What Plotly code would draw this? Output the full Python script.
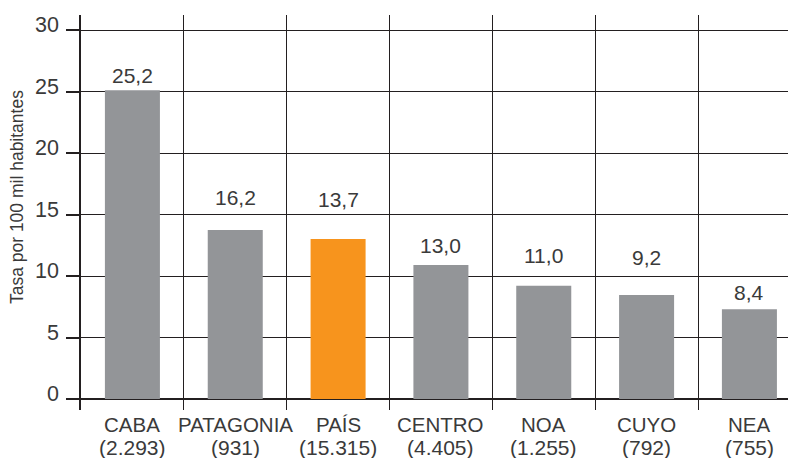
import plotly.graph_objects as go

# regiones y casos (entre paréntesis)
regiones = ['CABA', 'PATAGONIA', 'PAÍS', 'CENTRO', 'NOA', 'CUYO', 'NEA']
casos = ['2.293', '931', '15.315', '4.405', '1.255', '792', '755']

# alto de las barras tal como aparece dibujado
tasa_barra = [25.1, 13.74, 13.0, 10.9, 9.2, 8.45, 7.3]
# valores impresos encima de cada barra
tasa_texto = ['25,2', '16,2', '13,7', '13,0', '11,0', '9,2', '8,4']
# altura (en unidades del eje) donde va cada rótulo
rotulo_y = [26.34, 16.42, 16.26, 12.52, 11.63, 11.54, 8.62]

y_ticks = [0, 5, 10, 15, 20, 25, 30]

GRIS = '#939598'
NARANJA = '#F7941D'
LINEA = '#231f20'
TEXTO = '#3a3a3a'
FUENTE = 'Liberation Sans, Arial, sans-serif'

x = list(range(len(regiones)))
colores = [NARANJA if r == 'PAÍS' else GRIS for r in regiones]
bordes = [i - 0.5 for i in range(len(regiones) + 1)]
x_rango = [-0.5, 6.453]

fig = go.Figure(go.Bar(
    x=x,
    y=tasa_barra,
    width=0.535,
    marker=dict(color=colores, line=dict(width=0)),
    hoverinfo='skip',
))

# traza invisible para que se dibuje la grilla vertical del eje x2
fig.add_trace(go.Scatter(x=bordes, y=[0] * len(bordes), xaxis='x2', mode='markers',
                         marker=dict(opacity=0), hoverinfo='skip'))

for xi, yi, t in zip(x, rotulo_y, tasa_texto):
    fig.add_annotation(x=xi, y=yi, text=t, showarrow=False, xanchor='center', yanchor='middle',
                       font=dict(size=21, color=TEXTO, family=FUENTE))

for xi, r, c in zip(x, regiones, casos):
    fig.add_annotation(x=xi, y=0, yref='paper', text=r, showarrow=False, xanchor='center',
                       yanchor='top', yshift=-1, font=dict(size=20.5, color=TEXTO, family=FUENTE))
    fig.add_annotation(x=xi, y=0, yref='paper', text=f'({c})', showarrow=False, xanchor='center',
                       yanchor='top', yshift=-24, font=dict(size=21, color=TEXTO, family=FUENTE))

# rótulos del eje y, un poco por encima de cada marca
for v in y_ticks:
    fig.add_annotation(x=0, xref='paper', y=v, yref='y', text=str(v), showarrow=False,
                       xanchor='right', yanchor='middle', xshift=-20, yshift=5,
                       font=dict(size=21.5, color=TEXTO, family=FUENTE))

# título del eje y
fig.add_annotation(x=0, xref='paper', y=0.539, yref='paper', text='Tasa por 100 mil habitantes',
                   textangle=-90, showarrow=False, xanchor='center', yanchor='middle', xshift=-64,
                   font=dict(size=17.5, color=TEXTO, family=FUENTE))

# la página tiene un margen de 8 px, se compensa en los márgenes de la figura
fig.update_layout(
    width=788,
    height=450,
    margin=dict(l=73, r=0, t=7, b=48),
    paper_bgcolor='white',
    plot_bgcolor='white',
    showlegend=False,
    font=dict(family=FUENTE, color=TEXTO),
    xaxis=dict(
        range=x_rango,
        showticklabels=False,
        ticks='',
        showgrid=False,
        zeroline=False,
        showline=False,
        automargin=False,
    ),
    xaxis2=dict(
        overlaying='x',
        range=x_rango,
        tickvals=bordes,
        showticklabels=False,
        ticks='',
        showgrid=True,
        gridcolor=LINEA,
        gridwidth=1.3,
        zeroline=False,
        showline=False,
        automargin=False,
    ),
    yaxis=dict(
        range=[-0.894, 31.22],
        tickvals=y_ticks,
        showticklabels=False,
        ticks='outside',
        ticklen=13,
        tickwidth=2,
        tickcolor=LINEA,
        showgrid=True,
        gridcolor=LINEA,
        gridwidth=1.3,
        zeroline=True,
        zerolinecolor=LINEA,
        zerolinewidth=2.2,
        showline=True,
        linecolor=LINEA,
        linewidth=2.2,
        automargin=False,
    ),
)

fig.write_html('out.html')
